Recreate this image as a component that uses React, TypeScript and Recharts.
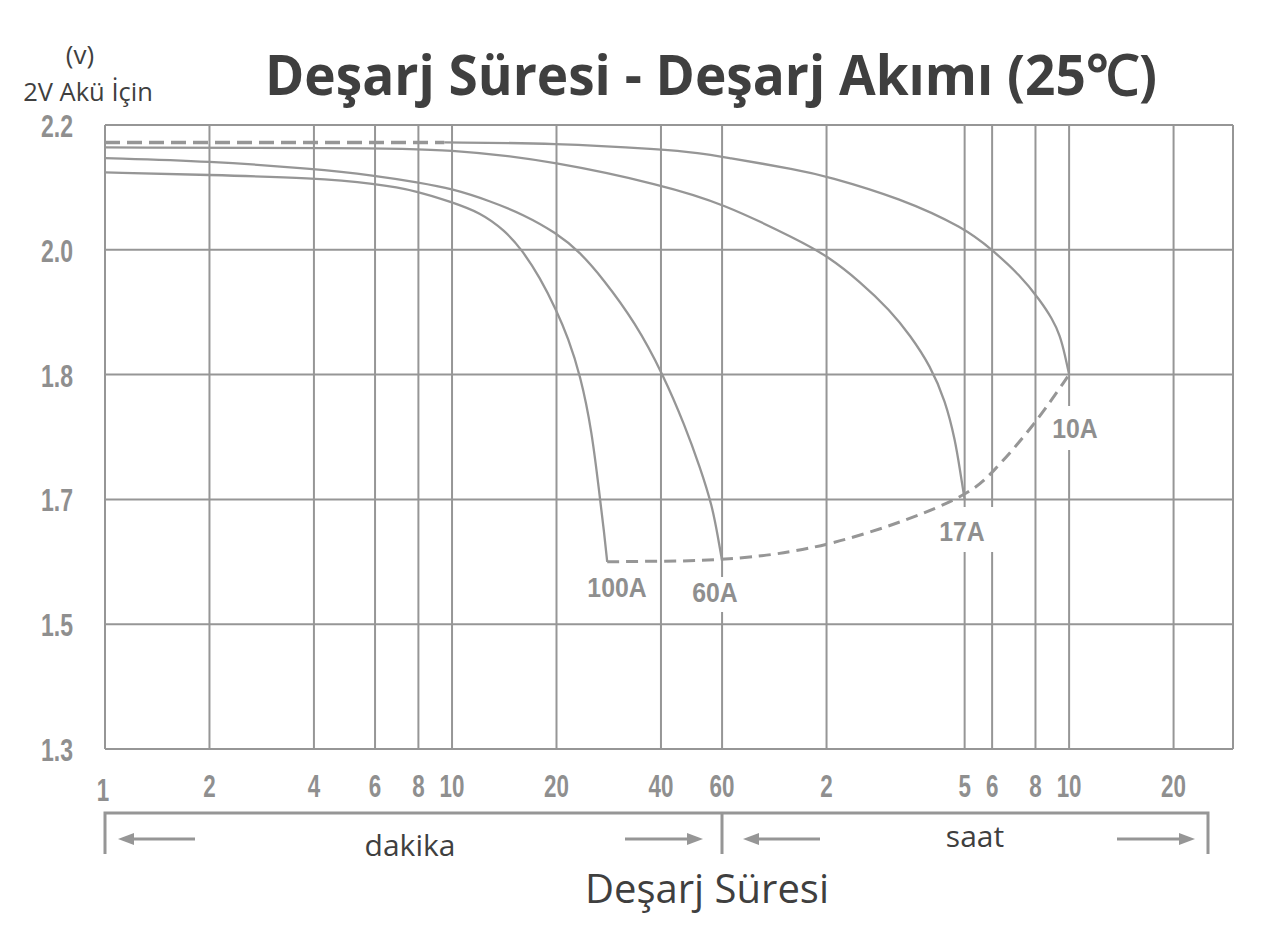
import { LineChart, Line, XAxis, YAxis, CartesianGrid, ReferenceLine } from 'recharts'

// x: discharge time in minutes (log scale), y: volts per 2V cell
const xTicks = [1, 2, 4, 6, 8, 10, 20, 40, 60, 120, 300, 360, 480, 600, 1200]
const xMax = 1780
const yTicks = [1.3, 1.5, 1.7, 1.8, 2.0, 2.2]

const t10A = [9.5, 20, 40, 52, 60, 100, 120, 195.5, 300, 360, 434, 495, 536, 565, 584, 600]
const v10A = [2.172, 2.171, 2.161, 2.155, 2.149, 2.128, 2.118, 2.083, 2.035, 2.0, 1.959, 1.919, 1.89, 1.863, 1.831, 1.8]

const t10AStart = [1, 9.5]
const v10AStart = [2.172, 2.172]

const t17A = [1, 5, 10, 20, 40, 60, 100, 120, 150, 183, 209, 239, 264, 282, 291, 300]
const v17A = [2.164, 2.163, 2.162, 2.141, 2.104, 2.075, 2.015, 1.991, 1.949, 1.903, 1.863, 1.814, 1.779, 1.747, 1.723, 1.7]

const t60A = [1, 2, 4, 6, 8, 10, 12.9, 16, 20, 23.4, 27.2, 33.7, 40.6, 46.9, 51.8, 56.2, 58.4, 60]
const v60A = [2.147, 2.142, 2.13, 2.119, 2.108, 2.098, 2.078, 2.057, 2.027, 1.996, 1.954, 1.884, 1.8, 1.759, 1.726, 1.69, 1.639, 1.602]

const t100A = [1, 2, 4, 6, 8, 10, 12.04, 14.2, 15.9, 17.9, 20, 21.6, 23.4, 25.3, 26.7, 27.4, 28]
const v100A = [2.124, 2.12, 2.115, 2.106, 2.094, 2.076, 2.06, 2.031, 2.0, 1.956, 1.903, 1.859, 1.8, 1.755, 1.7, 1.65, 1.6]

const tEnd = [28, 40, 60, 120, 300, 360, 472, 600]
const vEnd = [1.6, 1.601, 1.602, 1.62, 1.7, 1.721, 1.758, 1.8]

const zip = (ts: number[], vs: number[]) => ts.map((t, i) => ({ t, v: vs[i] }))

// the voltage axis is not linear: its ticks are evenly spaced
const pos = (v: number) => {
  for (let i = 0; i < yTicks.length - 1; i++) {
    if (v <= yTicks[i + 1]) return i + (v - yTicks[i]) / (yTicks[i + 1] - yTicks[i])
  }
  return yTicks.length - 1
}
const yPos = (d: { v: number }) => pos(d.v)

const GREY = '#969696'
const TICK = '#8f8f8f'
const DARK = '#3f3f3f'
const SANS = 'Liberation Sans, Arial, sans-serif'
const OPEN = 'Open Sans, sans-serif'

function XTick(props: any) {
  const { x, payload } = props
  const v = payload.value
  const label = v <= 60 ? String(v) : String(v / 60)
  const dy = v === 1 ? 4 : 0
  return (
    <g transform={`translate(${x - (v === 1 ? 2 : 0)},${797 + dy}) scale(0.7,1)`}>
      <text textAnchor="middle" fill={TICK} fontSize={32} fontWeight="bold" fontFamily={SANS}>{label}</text>
    </g>
  )
}

function YTick(props: any) {
  const { y, payload } = props
  return (
    <g transform={`translate(57,${y + 12}) scale(0.72,1)`}>
      <text textAnchor="middle" fill={TICK} fontSize={32} fontWeight="bold" fontFamily={SANS}>
        {yTicks[payload.value].toFixed(1)}
      </text>
    </g>
  )
}

function CurveLabel({ x, y, text }: { x: number, y: number, text: string }) {
  return (
    <g transform={`translate(${x},${y}) scale(0.92,1)`}>
      <text textAnchor="middle" fill={TICK} fontSize={27} fontWeight="bold" fontFamily={SANS}>{text}</text>
    </g>
  )
}

function Arrow({ x1, x2, y }: { x1: number, x2: number, y: number }) {
  // x2 is the tip
  const dir = x2 > x1 ? 1 : -1
  return (
    <g>
      <line x1={x1} y1={y} x2={x2 - dir * 12} y2={y} stroke={GREY} strokeWidth={3} />
      <polygon points={`${x2},${y} ${x2 - dir * 16},${y - 6} ${x2 - dir * 16},${y + 6}`} fill={GREY} />
    </g>
  )
}

export default function App() {
  const series = [
    { key: '10A', data: zip(t10A, v10A) },
    { key: '17A', data: zip(t17A, v17A) },
    { key: '60A', data: zip(t60A, v60A) },
    { key: '100A', data: zip(t100A, v100A) },
  ]

  return (
    <div style={{ position: 'absolute', left: 0, top: 0, width: 1276, height: 948, background: '#fff' }}>
      <LineChart width={1276} height={948} margin={{ top: 125, right: 43, bottom: 0, left: 0 }}>
        <CartesianGrid stroke={GREY} strokeWidth={2} />
        <XAxis
          dataKey="t"
          type="number"
          scale="log"
          domain={[1, xMax]}
          allowDataOverflow
          ticks={xTicks}
          interval={0}
          height={199}
          axisLine={false}
          tickLine={false}
          tick={<XTick />}
        />
        <YAxis
          type="number"
          domain={[0, 5]}
          ticks={[0, 1, 2, 3, 4, 5]}
          interval={0}
          width={105}
          axisLine={false}
          tickLine={false}
          tick={<YTick />}
        />
        <ReferenceLine x={xMax} stroke={GREY} strokeWidth={2} />
        {series.map(s => (
          <Line
            key={s.key}
            data={s.data}
            dataKey={yPos}
            type="basis"
            stroke={GREY}
            strokeWidth={2.3}
            dot={false}
            isAnimationActive={false}
          />
        ))}
        <Line
          data={zip(t10AStart, v10AStart)}
          dataKey={yPos}
          type="linear"
          stroke={GREY}
          strokeWidth={3.5}
          strokeDasharray="15 7"
          dot={false}
          isAnimationActive={false}
        />
        <Line
          data={zip(tEnd, vEnd)}
          dataKey={yPos}
          type="basis"
          stroke={GREY}
          strokeWidth={3}
          strokeDasharray="12 7"
          dot={false}
          isAnimationActive={false}
        />
      </LineChart>

      <svg width={1276} height={948} style={{ position: 'absolute', left: 0, top: 0, pointerEvents: 'none' }}>
        <text x={80} y={64} textAnchor="middle" fontSize={26} fontFamily={OPEN} fill={DARK}>(v)</text>
        <text x={88} y={101} textAnchor="middle" fontSize={25.5} fontFamily={OPEN} fill={DARK}>2V Akü İçin</text>
        <text
          x={711}
          y={95}
          textAnchor="middle"
          fontSize={56}
          fontWeight="bold"
          fontFamily={OPEN}
          fill={DARK}
          textLength={892}
          lengthAdjust="spacingAndGlyphs"
        >
          Deşarj Süresi - Deşarj Akımı (25℃)
        </text>

        {/* label backgrounds breaking the grid lines */}
        <rect x={1061} y={406} width={15} height={44} fill="#fff" />
        <rect x={953} y={507} width={46} height={45} fill="#fff" />
        <rect x={715} y={577} width={14} height={35} fill="#fff" />
        <CurveLabel x={617} y={597} text="100A" />
        <CurveLabel x={715} y={602} text="60A" />
        <CurveLabel x={962} y={541} text="17A" />
        <CurveLabel x={1075} y={438} text="10A" />

        <path d="M105,854 V813 H1208 V854 M722,813 V854" fill="none" stroke={GREY} strokeWidth={3} />
        <Arrow x1={195} x2={118} y={839} />
        <Arrow x1={625} x2={703} y={839} />
        <Arrow x1={820} x2={743} y={839} />
        <Arrow x1={1117} x2={1195} y={839} />
        <text x={410} y={856} textAnchor="middle" fontSize={30} fontFamily={OPEN} fill={DARK}>dakika</text>
        <text x={975} y={847} textAnchor="middle" fontSize={30} fontFamily={OPEN} fill={DARK}>saat</text>
        <text x={707} y={903} textAnchor="middle" fontSize={40} fontFamily={OPEN} fill={DARK}>Deşarj Süresi</text>
      </svg>
    </div>
  )
}
